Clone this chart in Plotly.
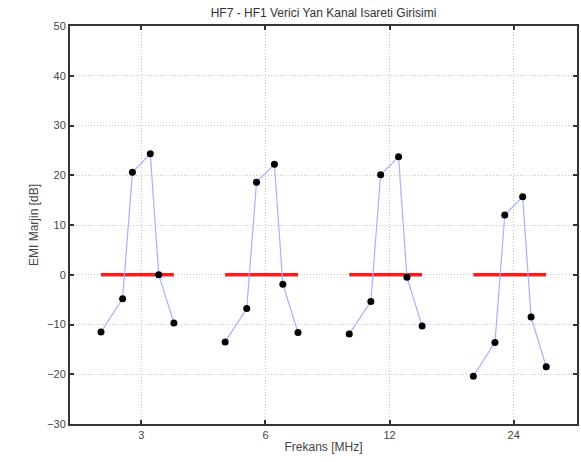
import plotly.graph_objects as go

groups = [1, 2, 3, 4]
tick_labels = ["3", "6", "12", "24"]
offsets = [-0.325, -0.151, -0.072, 0.072, 0.140, 0.262]
values = {
    1: [-11.5, -4.8, 20.6, 24.3, 0.0, -9.7],
    2: [-13.5, -6.8, 18.6, 22.2, -1.9, -11.6],
    3: [-11.9, -5.4, 20.1, 23.7, -0.5, -10.3],
    4: [-20.4, -13.6, 12.0, 15.7, -8.5, -18.5],
}
limit = 0

fig = go.Figure()
for g in groups:
    xs = [g + o for o in offsets]
    fig.add_trace(go.Scatter(x=[xs[0], xs[-1]], y=[limit, limit], mode="lines",
                             line=dict(color="#ff1a1a", width=3.5), showlegend=False, hoverinfo="skip"))
    fig.add_trace(go.Scatter(x=xs, y=values[g], mode="lines+markers",
                             line=dict(color="#a8b0ff", width=1.2),
                             marker=dict(color="black", size=7),
                             showlegend=False))

axis_common = dict(showline=True, linecolor="#333333", linewidth=2, mirror="ticks",
                   ticks="inside", ticklen=4, tickwidth=2, tickcolor="#333333",
                   showgrid=True, gridcolor="#c8c8c8", griddash="1px,2px", gridwidth=1,
                   zeroline=False, tickfont=dict(size=11, color="#444444",
                                                 family="Liberation Sans"))

fig.update_layout(
    width=581, height=462,
    margin=dict(l=70, r=2, t=26, b=38),
    paper_bgcolor="white", plot_bgcolor="white",
    title=dict(text="HF7 - HF1 Verici Yan Kanal Isareti Girisimi", x=0.5, xref="paper",
               y=0.972, yanchor="middle",
               font=dict(size=12, color="#333333", family="Liberation Sans")),
    xaxis=dict(range=[0.425, 4.51], tickvals=groups, ticktext=tick_labels,
               title=dict(text="Frekans [MHz]", standoff=2,
                          font=dict(size=12, color="#444444", family="Liberation Sans")),
               **axis_common),
    yaxis=dict(range=[-30, 50], dtick=10,
               title=dict(text="EMI Marjin [dB]", standoff=6,
                          font=dict(size=12, color="#444444", family="Liberation Sans")),
               **axis_common),
)

fig.write_html("out.html", config={"displayModeBar": False},
               post_script="document.body.style.margin='0';document.body.style.overflow='hidden';")
